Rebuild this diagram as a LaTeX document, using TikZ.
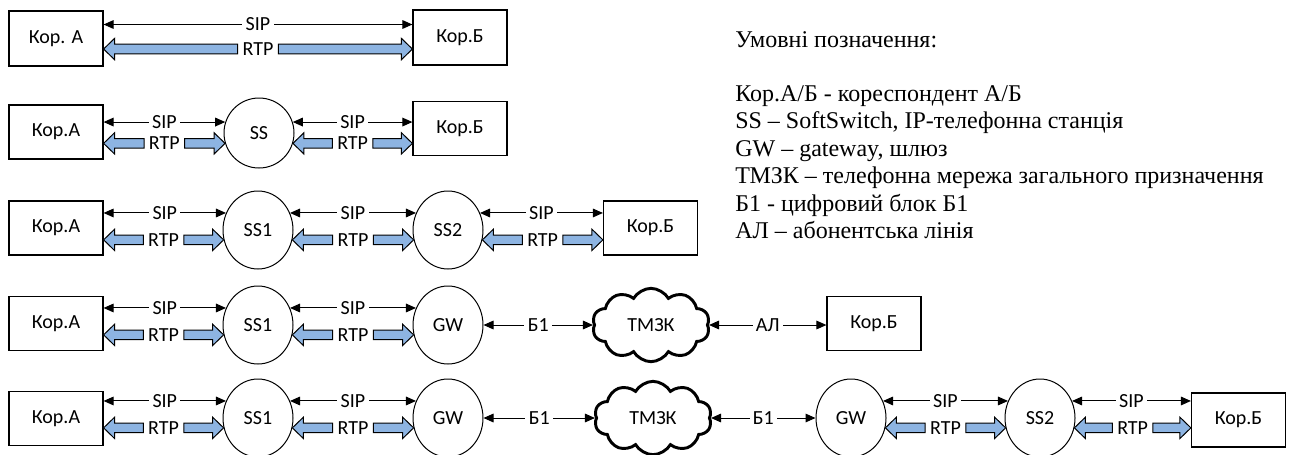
\documentclass[tikz,border=0pt]{standalone}
\usepackage{fontspec}
\setmainfont{Carlito}
\newfontfamily\legendfont{Liberation Serif}
\usetikzlibrary{calc,shapes.geometric,shapes.symbols,arrows.meta}

\definecolor{rtpblue}{RGB}{141,180,226}
% fat RTP arrow: head length, head half-width, shaft half-width
\newcommand\ahl{8.25pt}
\newcommand\ahw{8pt}
\newcommand\asw{3.6pt}
\newcommand\dfont{\fontsize{15pt}{17pt}\selectfont}

\tikzset{
  corr/.style={draw, line width=0.9pt, minimum width=70.5pt, minimum height=40.5pt, inner sep=0pt, font=\dfont},
  sw/.style={ellipse, draw, line width=0.75pt, minimum width=52.5pt, minimum height=58.5pt, inner sep=0pt, font=\dfont},
  net/.style={cloud, draw, line width=2.2pt, cloud puffs=10, cloud puff arc=120, aspect=1.6, minimum width=88pt, minimum height=55pt, inner sep=0pt, font=\dfont},
  sipline/.style={line width=0.75pt, {Triangle[length=7.5pt,width=6.5pt]}-{Triangle[length=7.5pt,width=6.5pt]}},
  lbl/.style={fill=white, inner xsep=2.5pt, inner ysep=1pt, font=\dfont},
  rlbl/.style={inner xsep=3.5pt, inner ysep=1pt, font=\dfont},
  rtpfill/.style={draw=black, fill=rtpblue, line width=0.75pt, line join=miter},
  legend/.style={inner sep=0pt, font=\legendfont\fontsize{18pt}{20.7pt}\selectfont},
}

% left-pointing fat arrow: #1 tip, #2 tail
\newcommand\rtpleft[2]{%
  \filldraw[rtpfill] let \p1=(#1), \p2=(#2) in
    (\x1,\y1) -- (\x1+\ahl,\y1+\ahw) -- (\x1+\ahl,\y1+\asw) -- (\x2,\y1+\asw)
    -- (\x2,\y1-\asw) -- (\x1+\ahl,\y1-\asw) -- (\x1+\ahl,\y1-\ahw) -- cycle;}
% right-pointing fat arrow: #1 tail, #2 tip
\newcommand\rtpright[2]{%
  \filldraw[rtpfill] let \p1=(#1), \p2=(#2) in
    (\x2,\y2) -- (\x2-\ahl,\y2+\ahw) -- (\x2-\ahl,\y2+\asw) -- (\x1,\y2+\asw)
    -- (\x1,\y2-\asw) -- (\x2-\ahl,\y2-\asw) -- (\x2-\ahl,\y2-\ahw) -- cycle;}
% SIP line plus RTP arrow pair: #1 name, #2/#3 SIP ends, #4/#5 RTP ends
\newcommand\chan[5]{%
  \draw[sipline] (#2) -- node[lbl] (#1s) {SIP} (#3);
  \node[rlbl] (#1r) at ($(#4)!0.5!(#5)$) {RTP};
  \rtpleft{#4}{#1r.west}
  \rtpright{#1r.east}{#5}}

\begin{document}
\begin{tikzpicture}[x=0.75pt,y=-0.75pt]
\useasboundingbox (0,0) rectangle (1291,454);

% row 1: direct call
\node[corr, minimum height=41.25pt] (r1a) at (56,38.5) {Кор. А};
\node[corr, minimum height=41.25pt] (r1b) at (460,37.5) {Кор.Б};
\coordinate (r1sip) at ([yshift=10.5pt]r1a.east);
\coordinate (r1rtp) at ([yshift=-7.9pt]r1a.east);
\chan{c1}{r1sip}{r1b.west |- r1sip}{r1rtp}{r1b.west |- r1rtp}

% row 2: via one SoftSwitch
\node[corr] (r2a) at (56,132) {Кор.А};
\node[sw, minimum width=52.5pt, minimum height=52.5pt] (r2s) at (259,133) {SS};
\node[corr] (r2b) at (460,128.5) {Кор.Б};
\chan{c2}{r2a.east |- r2s.162}{r2s.162}{r2a.east |- r2s.197}{r2s.197}
\chan{c3}{r2s.18}{r2b.west |- r2s.18}{r2s.343}{r2b.west |- r2s.343}

% row 3: two SoftSwitches
\node[corr] (r3a) at (56,228) {Кор.А};
\node[sw] (r3s1) at (258,230) {SS1};
\node[sw] (r3s2) at (448,230) {SS2};
\node[corr] (r3b) at (650.5,228) {Кор.Б};
\chan{c4}{r3a.east |- r3s1.152}{r3s1.152}{r3a.east |- r3s1.196}{r3s1.196}
\chan{c5}{r3s1.28}{r3s2.152}{r3s1.344}{r3s2.196}
\chan{c6}{r3s2.28}{r3b.west |- r3s2.28}{r3s2.344}{r3b.west |- r3s2.344}

% row 4: gateway to the public telephone network
\node[corr] (r4a) at (56,323.5) {Кор.А};
\node[sw] (r4s1) at (258,325) {SS1};
\node[sw] (r4g) at (448,325) {GW};
\node[net] (r4c) at (651,325) {ТМЗК};
\node[corr] (r4b) at (874,323.5) {Кор.Б};
\chan{c7}{r4a.east |- r4s1.152}{r4s1.152}{r4a.east |- r4s1.196}{r4s1.196}
\chan{c8}{r4s1.28}{r4g.152}{r4s1.344}{r4g.196}
\draw[sipline] (r4g.east) -- node[lbl] (b1a) {Б1} (r4g.east -| r4c.west);
\draw[sipline] (r4c.east) -- node[lbl] (al) {АЛ} (r4c.east -| r4b.west);

% row 5: through the network and back to IP
\node[corr] (r5a) at (56,418.5) {Кор.А};
\node[sw] (r5s1) at (258,418) {SS1};
\node[sw] (r5g) at (448,418) {GW};
\node[net] (r5c) at (653,418) {ТМЗК};
\node[sw] (r5g2) at (851,418) {GW};
\node[sw] (r5s2) at (1040,418) {SS2};
\node[corr] (r5b) at (1238.5,420) {Кор.Б};
\chan{c9}{r5a.east |- r5s1.152}{r5s1.152}{r5a.east |- r5s1.196}{r5s1.196}
\chan{c10}{r5s1.28}{r5g.152}{r5s1.344}{r5g.196}
\draw[sipline] (r5g.east) -- node[lbl] (b1b) {Б1} (r5g.east -| r5c.west);
\draw[sipline] (r5c.east) -- node[lbl] (b1c) {Б1} (r5c.east -| r5g2.west);
\chan{c11}{r5g2.28}{r5s2.152}{r5g2.344}{r5s2.196}
\chan{c12}{r5s2.28}{r5b.west |- r5s2.28}{r5s2.344}{r5b.west |- r5s2.344}

% legend
\node[legend, anchor=base west] (l0) at (735,47) {Умовні позначення:};
\node[legend, anchor=base west] (l1) at (735,101) {Кор.А/Б - кореспондент А/Б};
\node[legend, anchor=base west] (l2) at (735,128.5) {SS – SoftSwitch, IP-телефонна станція};
\node[legend, anchor=base west] (l3) at (735,156) {GW – gateway, шлюз};
\node[legend, anchor=base west] (l4) at (735,183.5) {ТМЗК – телефонна мережа загального призначення};
\node[legend, anchor=base west] (l5) at (735,211) {Б1 - цифровий блок Б1};
\node[legend, anchor=base west] (l6) at (735,238.5) {АЛ – абонентська лінія};
\end{tikzpicture}
\end{document}
